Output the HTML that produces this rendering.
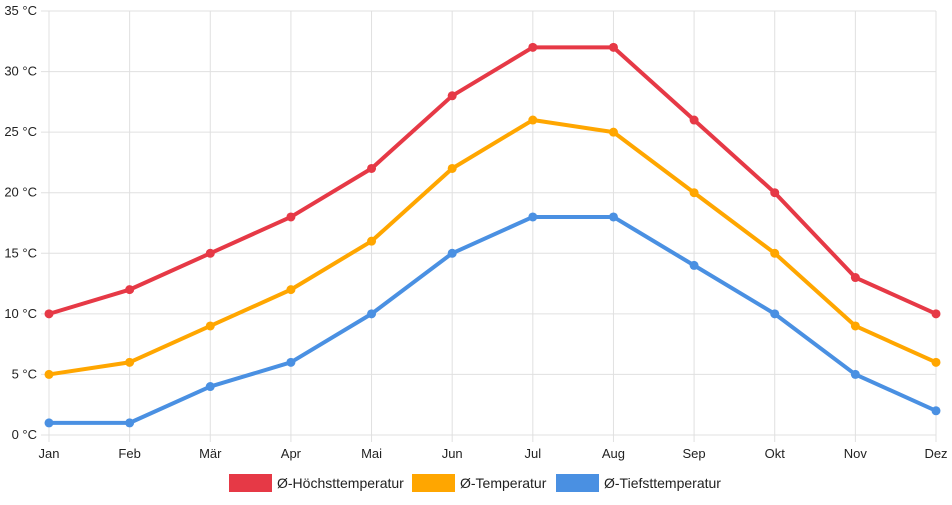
<!DOCTYPE html>
<html><head><meta charset="utf-8"><style>
body{margin:0;background:#fff;font-family:"Liberation Sans",sans-serif}
svg text{font-family:"Liberation Sans",sans-serif;font-size:13px;fill:#222}
</style></head><body>
<svg id="c" width="952" height="500"></svg>
<script>
const categories=["Jan","Feb","Mär","Apr","Mai","Jun","Jul","Aug","Sep","Okt","Nov","Dez"];
const maxTemp=[10,12,15,18,22,28,32,32,26,20,13,10];
const avgTemp=[5,6,9,12,16,22,26,25,20,15,9,6];
const minTemp=[1,1,4,6,10,15,18,18,14,10,5,2];
const yTicks=[0,5,10,15,20,25,30,35];
const seriesNames=["Ø-Höchsttemperatur","Ø-Temperatur","Ø-Tiefsttemperatur"];
const NS="http://www.w3.org/2000/svg",svg=document.getElementById('c');
const x0=49,x1=936,yB=435,yT=11;
const xs=i=>x0+i*(x1-x0)/(categories.length-1);
const ys=v=>yB-v*(yB-yT)/35;
function el(t,a,p){const e=document.createElementNS(NS,t);for(const k in a)e.setAttribute(k,a[k]);(p||svg).appendChild(e);return e;}
const grid=el('g',{});
yTicks.forEach(v=>{const l=el('line',{x1:41,x2:x1,y1:ys(v),y2:ys(v),stroke:'#e0e0e0'},grid);
const t=el('text',{x:37,y:ys(v)+4,'text-anchor':'end'});t.textContent=v+' °C';
});
categories.forEach((c,i)=>{el('line',{x1:xs(i),x2:xs(i),y1:yT,y2:yB+7,stroke:'#e0e0e0'},grid);
const t=el('text',{x:xs(i),y:yB+23,'text-anchor':'middle'});t.textContent=c;
});
const colors=["#e63946","#ffa600","#4a90e2"];
[maxTemp,avgTemp,minTemp].forEach((d,s)=>{
const g=el('g',{});
el('polyline',{points:d.map((v,i)=>xs(i)+','+ys(v)).join(' '),fill:'none',stroke:colors[s],'stroke-width':4,'stroke-linejoin':'round'},g);
d.forEach((v,i)=>{const c=el('circle',{cx:xs(i),cy:ys(v),r:4.5,fill:colors[s]},g);
});});
const lx=[229,412,556];
seriesNames.forEach((n,s)=>{const g=el('g',{});
el('rect',{x:lx[s],y:474,width:43,height:18,fill:colors[s]},g);
const t=el('text',{x:lx[s]+48,y:488},g);t.textContent=n;t.style.fontSize='14px';});
</script>
</body></html>
